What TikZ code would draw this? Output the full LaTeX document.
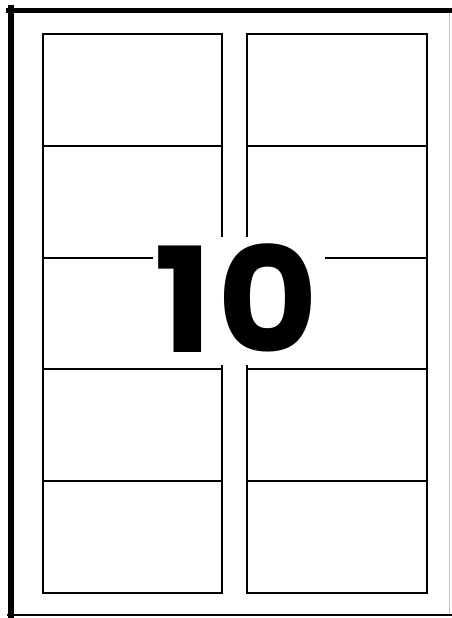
\documentclass[tikz,border=0pt]{standalone}
\usepackage{fontspec}
\newfontfamily\numfont{Poppins}[UprightFont=* Bold]
\begin{document}
\begin{tikzpicture}[x=1pt,y=-1pt,
  cell/.style={draw=black,line width=2pt},
  frame/.style={draw=black,line cap=rect}]
\useasboundingbox (0,0) rectangle (452,618);
\fill[white] (0,0) rectangle (452,618);
% outer sheet border
\draw[frame,line width=6pt] (11,8) -- (11,616);
\draw[frame,line width=5pt] (8,10.5) -- (452,10.5);
\draw[frame,line width=1.6pt] (8,615) -- (452,615);
\draw[draw=black!25,line width=1pt] (449,13) -- (449,614);
% label cells
\foreach \r in {0,...,4}{
  \pgfmathsetmacro{\ya}{34+\r*111.8}
  \pgfmathsetmacro{\yb}{34+(\r+1)*111.8}
  \draw[cell] (43,\ya) rectangle (222,\yb);
  \draw[cell] (247,\ya) rectangle (427,\yb);
}
% number
\fill[white] (153,237) rectangle (325,365);
\node[inner sep=0pt,anchor=base,xscale=1.06,font=\numfont\fontsize{146}{146}\selectfont] (num) at (236.5,352) {1\kern4pt0};
\end{tikzpicture}
\end{document}
